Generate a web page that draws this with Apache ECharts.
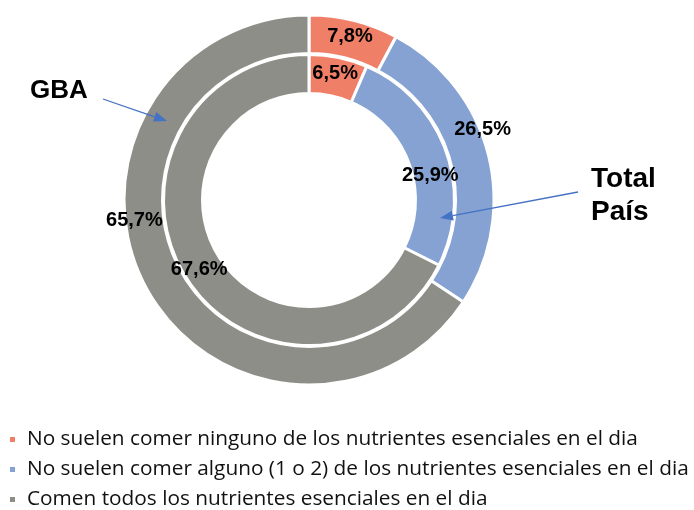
<!DOCTYPE html>
<html>
<head>
<meta charset="utf-8">
<script src="https://cdn.jsdelivr.net/npm/echarts@6/dist/echarts.min.js"></script>
<style>html,body{margin:0;padding:0;background:#fff}#c{width:694px;height:510px}</style>
</head>
<body>
<div id="c"></div>
<script>
const categories = [
  'No suelen comer ninguno de los nutrientes esenciales en el dia',
  'No suelen comer alguno (1 o 2) de los nutrientes esenciales en el dia',
  'Comen todos los nutrientes esenciales en el dia'
];
const gbaValues = [7.8, 26.5, 65.7];
const totalPaisValues = [6.5, 25.9, 67.6];
const colors = ['#F07F68', '#86A2D3', '#8D8E87'];

const outerLabelShift = [[0, 0], [10, -29], [-26, -59]];
const innerLabelShift = [[0, 0], [0, 20], [0, 2]];
const legendTops = [424, 454, 484];

function fmt(p) { return p.value.toFixed(1).replace('.', ',') + '%'; }

function arrow(x1, y1, x2, y2, color) {
  const ang = Math.atan2(y2 - y1, x2 - x1);
  const L = 13, W = 5;
  const bx = x2 - L * Math.cos(ang), by = y2 - L * Math.sin(ang);
  const px = -Math.sin(ang) * W, py = Math.cos(ang) * W;
  return [
    { type: 'line', z: 100, shape: { x1: x1, y1: y1, x2: bx, y2: by }, style: { stroke: color, lineWidth: 1.3 } },
    { type: 'polygon', z: 100, shape: { points: [[x2, y2], [bx + px, by + py], [bx - px, by - py]] }, style: { fill: color } }
  ];
}

const labelStyle = {
  show: true, position: 'inside', formatter: fmt,
  color: '#000', fontWeight: 'bold', fontSize: 20,
  fontFamily: 'Liberation Sans, Arial, sans-serif'
};

const chart = echarts.init(document.getElementById('c'));
chart.setOption({
  animation: false,
  color: colors,
  legend: categories.map((c, i) => ({
    orient: 'vertical', left: 3, top: legendTops[i],
    icon: 'rect', itemWidth: 7, itemHeight: 7,
    textStyle: { fontSize: 20.8, color: '#111', fontFamily: 'Open Sans, Noto Sans, sans-serif', padding: [0, 0, 0, 6] },
    data: [c]
  })),
  series: [
    {
      name: 'GBA', type: 'pie', center: [309, 200], radius: [146.5, 185],
      startAngle: 90, clockwise: true, avoidLabelOverlap: false,
      itemStyle: { borderColor: '#fff', borderWidth: 3 },
      label: labelStyle, labelLine: { show: false },
      labelLayout: function (p) { const s = outerLabelShift[p.dataIndex]; return { dx: s[0], dy: s[1] }; },
      emphasis: { disabled: true },
      data: categories.map((c, i) => ({ name: c, value: gbaValues[i] }))
    },
    {
      name: 'Total País', type: 'pie', center: [309, 200], radius: [106.5, 145.5],
      startAngle: 90, clockwise: true, avoidLabelOverlap: false,
      itemStyle: { borderColor: '#fff', borderWidth: 3 },
      label: labelStyle, labelLine: { show: false },
      labelLayout: function (p) { const s = innerLabelShift[p.dataIndex]; return { dx: s[0], dy: s[1] }; },
      emphasis: { disabled: true },
      data: categories.map((c, i) => ({ name: c, value: totalPaisValues[i] }))
    }
  ],
  graphic: [
    { type: 'text', z: 100, left: 30, top: 78, style: { text: 'GBA', font: 'bold 26px Liberation Sans, Arial, sans-serif', fill: '#000' } },
    { type: 'text', z: 100, left: 591, top: 163, style: { text: 'Total\nPaís', font: 'bold 28px Liberation Sans, Arial, sans-serif', lineHeight: 33, fill: '#000' } }
  ].concat(arrow(103, 99, 167, 121, '#4472C4')).concat(arrow(578, 192, 440, 218, '#4472C4'))
});
</script>
</body>
</html>
